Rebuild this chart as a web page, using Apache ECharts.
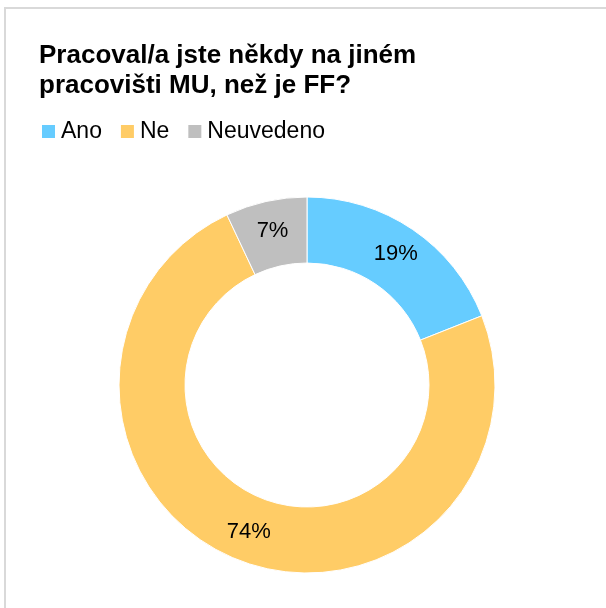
<!DOCTYPE html>
<html>
<head>
<meta charset="utf-8">
<script src="https://cdn.jsdelivr.net/npm/echarts@6/dist/echarts.min.js"></script>
<style>
html,body{margin:0;padding:0;background:#fff;}
#chart{width:606px;height:608px;}
</style>
</head>
<body>
<div id="chart"></div>
<script>
const titleText = 'Pracoval/a jste někdy na jiném\npracovišti MU, než je FF?';
const categories = ['Ano', 'Ne', 'Neuvedeno'];
const values = [19, 74, 7];
const colors = ['#66CCFF', '#FFCC66', '#BFBFBF'];

const chart = echarts.init(document.getElementById('chart'), null, {renderer: 'canvas'});
const FONT = 'Liberation Sans, Arial, Helvetica, sans-serif';
chart.setOption({
  animation: false,
  backgroundColor: '#ffffff',
  graphic: [{
    type: 'rect',
    shape: {x: 5, y: 8, width: 800, height: 800},
    style: {fill: 'none', stroke: '#D9D9D9', lineWidth: 2},
    silent: true
  }],
  title: {
    text: titleText,
    left: 34,
    top: 36,
    textStyle: {fontFamily: FONT, fontWeight: 'bold', fontSize: 26, lineHeight: 30, color: '#000'}
  },
  legend: {
    left: 40,
    top: 120,
    padding: 0,
    itemWidth: 15,
    itemHeight: 15,
    itemGap: 17,
    icon: 'rect',
    data: categories,
    textStyle: {fontFamily: FONT, fontSize: 23, color: '#000'}
  },
  series: [{
    type: 'pie',
    center: [307, 385],
    radius: [122, 188],
    startAngle: 90,
    clockwise: true,
    avoidLabelOverlap: false,
    itemStyle: {borderColor: '#fff', borderWidth: 1},
    label: {
      show: true,
      position: 'inside',
      formatter: '{c}%',
      fontFamily: FONT,
      fontSize: 22,
      color: '#000'
    },
    labelLine: {show: false},
    emphasis: {disabled: true},
    data: categories.map((c, i) => ({name: c, value: values[i], itemStyle: {color: colors[i]}}))
  }]
});
</script>
</body>
</html>
